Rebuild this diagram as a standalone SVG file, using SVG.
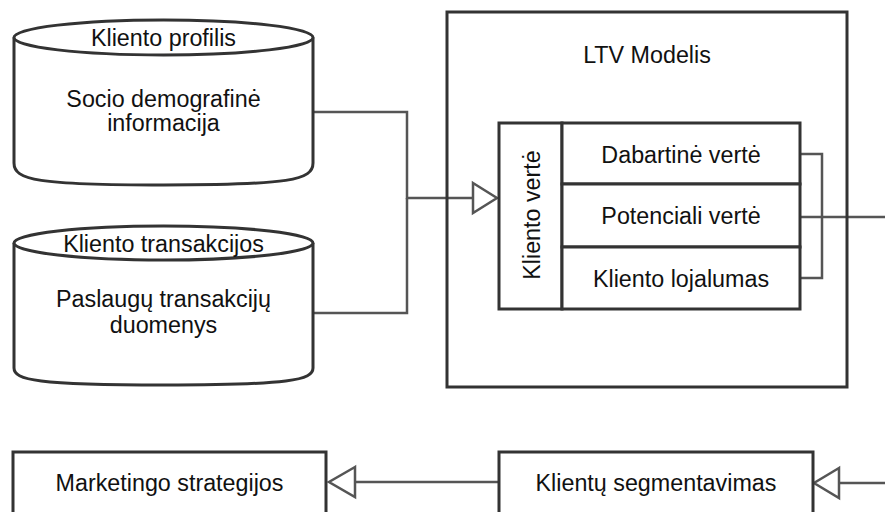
<svg xmlns="http://www.w3.org/2000/svg" width="885" height="512" viewBox="0 0 885 512">
<style>
  .box { fill: #fff; stroke: #333; stroke-width: 3; }
  .t { font-family: "Liberation Sans", Arial, sans-serif; font-size: 23.3px; fill: #111; text-anchor: middle; }
  .c { fill: none; stroke: #555; stroke-width: 2.5; }
  .ah { fill: #fff; stroke: #555; stroke-width: 2.5; stroke-linejoin: miter; }
</style>
<rect width="885" height="512" fill="#fff"/>
<g id="connectors">
  <path class="c" d="M313,112 H407 V198 H473"/>
  <path class="c" d="M313,313 H407 V198"/>
  <polygon class="ah" points="473,183 497,198 473,213"/>
  <path class="c" d="M800,154 H822 V278 H800"/>
  <path class="c" d="M800,217 H885"/>
  <path class="c" d="M885,483 H839"/>
  <polygon class="ah" points="839,468 814,483 839,498"/>
  <path class="c" d="M499,482 H355"/>
  <polygon class="ah" points="355,467 329,482 355,497"/>
</g>
<g id="kliento-profilis">
  <path class="box" d="M14,37.5 V163 C14,180 37,185 163.5,185 C290,185 313,180 313,163 V37.5"/>
  <ellipse class="box" cx="163.5" cy="37.5" rx="149.5" ry="17.5"/>
  <text class="t" x="163.5" y="46">Kliento profilis</text>
  <text class="t" x="163.5" y="107">Socio demografinė</text>
  <text class="t" x="163.5" y="131">informacija</text>
</g>
<g id="kliento-transakcijos">
  <path class="box" d="M14,243 V368 C14,380 37,385 163.5,385 C290,385 313,380 313,368 V243"/>
  <ellipse class="box" cx="163.5" cy="243" rx="149.5" ry="17"/>
  <text class="t" x="163.5" y="252">Kliento transakcijos</text>
  <text class="t" x="163.5" y="307">Paslaugų transakcijų</text>
  <text class="t" x="163.5" y="333">duomenys</text>
</g>
<g id="ltv-modelis">
  <rect class="box" x="447" y="12" width="400" height="375" style="fill:none"/>
  <text class="t" x="647" y="63">LTV Modelis</text>
</g>
<g id="kliento-verte">
  <rect class="box" x="499" y="123" width="63" height="186"/>
  <text class="t" transform="translate(540,215) rotate(-90)">Kliento vertė</text>
</g>
<g id="dabartine-verte">
  <rect class="box" x="562" y="123" width="238" height="61"/>
  <text class="t" x="681" y="163">Dabartinė vertė</text>
</g>
<g id="potenciali-verte">
  <rect class="box" x="562" y="184" width="238" height="63"/>
  <text class="t" x="681" y="224">Potenciali vertė</text>
</g>
<g id="kliento-lojalumas">
  <rect class="box" x="562" y="247" width="238" height="62"/>
  <text class="t" x="681" y="287">Kliento lojalumas</text>
</g>
<g id="marketingo-strategijos">
  <rect class="box" x="13" y="452" width="313" height="70"/>
  <text class="t" x="169.5" y="491">Marketingo strategijos</text>
</g>
<g id="klientu-segmentavimas">
  <rect class="box" x="499" y="452" width="314" height="70"/>
  <text class="t" x="656" y="491">Klientų segmentavimas</text>
</g>
</svg>
